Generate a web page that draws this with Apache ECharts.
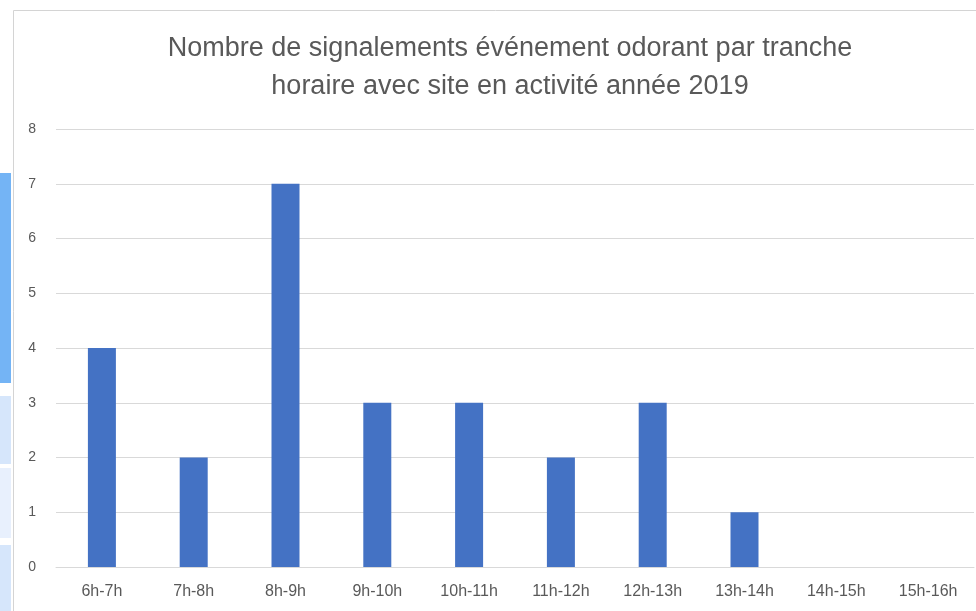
<!DOCTYPE html>
<html>
<head>
<meta charset="utf-8">
<script src="https://cdn.jsdelivr.net/npm/echarts@6/dist/echarts.min.js"></script>
<style>
  html, body { margin: 0; padding: 0; background: #fff; }
  #chart { width: 976px; height: 611px; }
</style>
</head>
<body>
<div id="chart"></div>
<script>
// tranches horaires et nombre de signalements
const categories = ['6h-7h', '7h-8h', '8h-9h', '9h-10h', '10h-11h', '11h-12h', '12h-13h', '13h-14h', '14h-15h', '15h-16h']
const signalements = [4, 2, 7, 3, 3, 2, 3, 1, 0, 0]
const yTicks = [0, 8, 1] // min, max, interval

const titleText = 'Nombre de signalements événement odorant par tranche\nhoraire avec site en activité année 2019'
const textColor = '#595959'
const barColor = '#4472C4'

const chart = echarts.init(document.getElementById('chart'))

chart.setOption({
  backgroundColor: '#fff',
  animation: false,
  title: {
    text: titleText,
    left: 505,
    top: 25,
    textAlign: 'center',
    textStyle: {
      fontFamily: 'Liberation Sans',
      fontSize: 27,
      fontWeight: 'normal',
      color: textColor,
      lineHeight: 38
    }
  },
  // bordure de la zone graphique et bandeau de gauche (capture d'écran)
  graphic: [
    { type: 'rect', shape: { x: 13.5, y: 10.5, width: 980, height: 620 }, style: { fill: 'none', stroke: '#d4d4d4', lineWidth: 1 }, silent: true },
    { type: 'rect', shape: { x: 0, y: 173, width: 11, height: 210 }, style: { fill: '#74b4f5' }, silent: true },
    { type: 'rect', shape: { x: 0, y: 396, width: 11, height: 68 }, style: { fill: '#d6e6fb' }, silent: true },
    { type: 'rect', shape: { x: 0, y: 468, width: 11, height: 70 }, style: { fill: '#e8f0fd' }, silent: true },
    { type: 'rect', shape: { x: 0, y: 545, width: 11, height: 66 }, style: { fill: '#d6e6fb' }, silent: true }
  ],
  grid: {
    left: 56,
    right: 2,
    top: 129,
    bottom: 44
  },
  xAxis: {
    type: 'category',
    data: categories,
    axisLine: { lineStyle: { color: '#d9d9d9' } },
    axisTick: { show: false },
    axisLabel: {
      color: textColor,
      fontFamily: 'Liberation Sans',
      fontSize: 16,
      margin: 17
    }
  },
  yAxis: {
    type: 'value',
    min: yTicks[0],
    max: yTicks[1],
    interval: yTicks[2],
    axisLine: { show: false },
    axisTick: { show: false },
    axisLabel: {
      color: textColor,
      fontFamily: 'Liberation Sans',
      fontSize: 14,
      margin: 20
    },
    splitLine: { lineStyle: { color: '#d9d9d9' } }
  },
  series: [{
    type: 'bar',
    data: signalements,
    barWidth: 28,
    itemStyle: { color: barColor }
  }]
})
</script>
</body>
</html>
